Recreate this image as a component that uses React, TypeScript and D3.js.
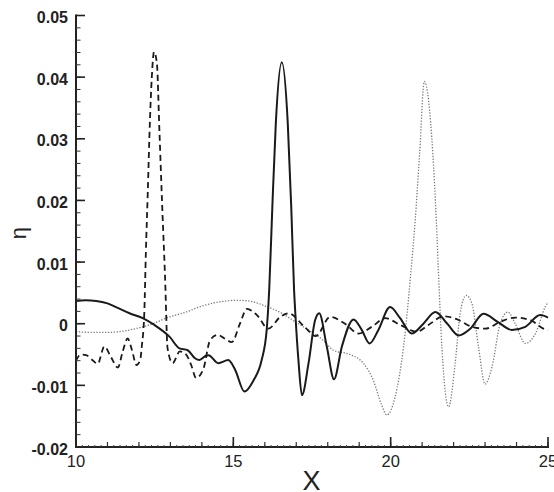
import React from "react";
import * as d3 from "d3";

// ---- data ----
const solidX = [10.0, 10.3, 10.64, 11.0, 11.27, 11.7, 12.12, 12.49, 12.97, 13.29, 13.55, 13.78, 13.92, 14.13, 14.21, 14.52, 14.84, 15.06, 15.35, 15.64, 15.9, 16.06, 16.14, 16.24, 16.35, 16.54, 16.73, 16.84, 16.93, 16.97, 17.07, 17.18, 17.39, 17.6, 17.73, 17.97, 18.2, 18.45, 18.82, 19.08, 19.33, 19.61, 19.98, 20.3, 20.67, 21.04, 21.42, 21.8, 22.16, 22.53, 22.95, 23.4, 23.85, 24.28, 24.75, 25.0];
const solidY = [0.0037, 0.0038, 0.0037, 0.0033, 0.0027, 0.0017, 0.0009, -0.0002, -0.0021, -0.004, -0.0043, -0.0056, -0.0059, -0.0052, -0.0051, -0.0064, -0.0059, -0.0075, -0.011, -0.0092, -0.0059, -0.001, 0.0055, 0.019, 0.0325, 0.0424, 0.0325, 0.019, 0.0055, 0.0017, -0.006, -0.0116, -0.0064, 0.0006, 0.0017, -0.0037, -0.009, -0.0037, 0.0007, -0.001, -0.0032, -0.001, 0.0027, 0.0009, -0.0016, 0.0, 0.0019, 0.0, -0.0019, -0.0008, 0.0016, 0.0003, -0.001, -0.0005, 0.0014, 0.001];

const dashedX = [10.0, 10.15, 10.32, 10.5, 10.69, 10.9, 11.11, 11.33, 11.48, 11.64, 11.78, 11.92, 12.04, 12.09, 12.17, 12.22, 12.28, 12.35, 12.41, 12.48, 12.57, 12.65, 12.74, 12.83, 12.91, 13.07, 13.3, 13.5, 13.66, 13.82, 14.05, 14.26, 14.5, 14.75, 14.95, 15.21, 15.43, 15.75, 16.11, 16.49, 16.75, 17.28, 17.62, 18.08, 18.55, 18.98, 19.4, 19.83, 20.3, 20.83, 21.2, 21.68, 22.16, 22.58, 23.0, 23.48, 23.96, 24.43, 24.91, 25.0];
const dashedY = [-0.006, -0.005, -0.0051, -0.0058, -0.0065, -0.0037, -0.0054, -0.0071, -0.0046, -0.0024, -0.0043, -0.0067, -0.0059, -0.0037, 0.0017, 0.0115, 0.0212, 0.033, 0.0401, 0.0441, 0.0423, 0.0314, 0.019, 0.0076, -0.004, -0.0064, -0.0045, -0.005, -0.0067, -0.0088, -0.0073, -0.0027, -0.0018, -0.0025, -0.003, 0.0, 0.0024, 0.0014, -0.0008, 0.0011, 0.0017, -0.0006, -0.002, 0.0011, 0.0, -0.0016, -0.0005, 0.0009, -0.0002, -0.0013, -0.0002, 0.0012, 0.0006, -0.0005, -0.0008, 0.0003, 0.001, 0.0006, -0.0009, -0.001];

const dottedX = [10.0, 10.5, 11.06, 11.5, 11.9, 12.44, 12.86, 13.5, 14.03, 14.63, 15.16, 15.59, 16.0, 16.54, 16.97, 17.38, 17.86, 18.18, 18.71, 19.13, 19.45, 19.7, 19.88, 20.14, 20.41, 20.64, 20.78, 20.92, 21.07, 21.34, 21.45, 21.52, 21.63, 21.84, 22.05, 22.21, 22.4, 22.58, 22.79, 23.0, 23.22, 23.48, 23.72, 23.96, 24.28, 24.6, 24.91, 25.0];
const dottedY = [-0.0013, -0.0014, -0.0014, -0.0012, -0.0008, 0.0, 0.0009, 0.0019, 0.0029, 0.0036, 0.0038, 0.0036, 0.0029, 0.0017, 0.0003, -0.001, -0.0027, -0.0043, -0.005, -0.0064, -0.0092, -0.013, -0.0148, -0.0119, -0.0037, 0.0082, 0.0168, 0.0276, 0.0393, 0.0276, 0.0168, 0.0082, -0.004, -0.0135, -0.0064, 0.0017, 0.0046, 0.0033, -0.0037, -0.0098, -0.007, 0.0, 0.0019, 0.0, -0.0032, -0.0016, 0.0027, 0.0035];

const yTicks = [-0.02, -0.01, 0, 0.01, 0.02, 0.03, 0.04, 0.05];
const yTickLabels = ["-0.02", "-0.01", "0", "0.01", "0.02", "0.03", "0.04", "0.05"];
const xTicks = [10, 15, 20, 25];
const xTickLabels = ["10", "15", "20", "25"];

const W = 554;
const H = 492;
const L = 76, R = 548, T = 15.5, B = 447;

export default function App() {
  const x = d3.scaleLinear().domain([10, 25]).range([L, R]);
  const y = d3.scaleLinear().domain([-0.02, 0.05]).range([B, T]);
  const line = d3
    .line<[number, number]>()
    .x((d) => x(d[0]))
    .y((d) => y(d[1]))
    .curve(d3.curveMonotoneX);
  const zip = (a: number[], b: number[]) => a.map((v, i) => [v, b[i]] as [number, number]);

  const yMinor = d3.range(-0.02, 0.0501, 0.002);
  const xMid = d3.range(10, 25.01, 1);
  const xMinor = d3.range(10, 25.01, 0.2);
  const font = "'Liberation Sans', Arial, sans-serif";

  return (
    <svg width={W} height={H} style={{ position: "absolute", left: 0, top: 0, background: "#fff" }}>
      <rect x={0} y={0} width={W} height={H} fill="#fff" />
      {/* curves */}
      <path d={line(zip(dottedX, dottedY)) || ""} fill="none" stroke="#7a7a7a" strokeWidth={1.3} strokeDasharray="1.3,1.6" />
      <path d={line(zip(dashedX, dashedY)) || ""} fill="none" stroke="#1a1a1a" strokeWidth={1.8} strokeDasharray="6,4" />
      <path d={line(zip(solidX, solidY)) || ""} fill="none" stroke="#1a1a1a" strokeWidth={2} />

      {/* y axis */}
      <line x1={L} x2={L} y1={T - 1} y2={B + 1} stroke="#222" strokeWidth={2} />
      {yMinor.map((v, i) => (
        <line key={"ym" + i} x1={L} x2={L + 4.5} y1={y(v)} y2={y(v)} stroke="#333" strokeWidth={1} />
      ))}
      {yTicks.map((v, i) => (
        <g key={"yt" + i}>
          <line x1={L} x2={L + 9} y1={y(v)} y2={y(v)} stroke="#222" strokeWidth={1.6} />
          <text x={68} y={y(v) + 7.5} textAnchor="end" fontFamily={font} fontWeight="bold" fontSize={16} fill="#222">
            {yTickLabels[i]}
          </text>
        </g>
      ))}

      {/* x axis */}
      <line x1={L - 1} x2={R + 1} y1={B} y2={B} stroke="#222" strokeWidth={2} />
      {xMinor.map((v, i) => (
        <line key={"xm" + i} x1={x(v)} x2={x(v)} y1={B} y2={B - 2} stroke="#444" strokeWidth={1} />
      ))}
      {xMid.map((v, i) => (
        <line key={"xd" + i} x1={x(v)} x2={x(v)} y1={B} y2={B - 5} stroke="#333" strokeWidth={1.2} />
      ))}
      {xTicks.map((v, i) => (
        <g key={"xt" + i}>
          <line x1={x(v)} x2={x(v)} y1={B} y2={B - 10} stroke="#222" strokeWidth={1.6} />
          <text x={x(v)} y={467} textAnchor="middle" fontFamily={font} fontSize={16.5} fill="#222">
            {xTickLabels[i]}
          </text>
        </g>
      ))}

      {/* axis titles */}
      <text x={311.5} y={490} textAnchor="middle" fontFamily={font} fontSize={27} fill="#222">
        X
      </text>
      <text transform="translate(26,233) rotate(-90)" textAnchor="middle" fontFamily={font} fontSize={22} fill="#222">
        η
      </text>
    </svg>
  );
}
